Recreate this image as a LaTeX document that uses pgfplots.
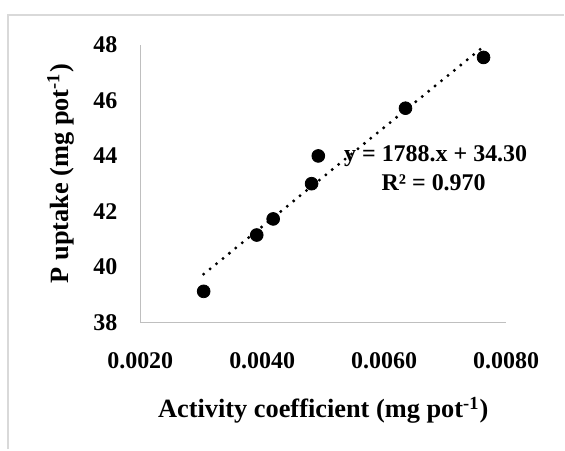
\documentclass[border=0pt]{standalone}
\usepackage{fontspec}
\setmainfont{Liberation Serif}
\usepackage{pgfplots}
\pgfplotsset{compat=1.18}
\definecolor{framegray}{HTML}{D9D9D9}
\definecolor{axisgray}{HTML}{BFBFBF}

\begin{document}
\begin{tikzpicture}
% page = 565x450 px at 0.5pt per px; axis box spans px 140.5..507 x 45..323
\begin{axis}[
    scale only axis,
    width=183.25pt, height=139pt,
    xmin=0.002, xmax=0.008,
    ymin=38, ymax=48,
    xtick={0.002,0.004,0.006,0.008},
    ytick={38,40,42,44,46,48},
    scaled x ticks=false,
    axis x line=bottom, axis y line=left,
    axis line style={axisgray, line width=0.75pt, -},
    major tick length=0pt,
    tick style={draw=none},
    /pgf/number format/assume math mode=true,
    xticklabel style={font=\fontsize{12}{14}\selectfont\bfseries, yshift=-11.5pt,
        /pgf/number format/.cd, fixed, fixed zerofill, precision=4},
    yticklabel style={font=\fontsize{12}{14}\selectfont\bfseries, xshift=-8pt},
    xlabel={Activity coefficient (mg pot\textsuperscript{-1})},
    ylabel={P uptake (mg pot\textsuperscript{-1})},
    label style={font=\fontsize{13.2}{15}\selectfont\bfseries},
    x label style={at={(axis description cs:0.5,-0.317)}, anchor=center},
    y label style={at={(axis description cs:-0.218,0.536)}, anchor=center},
    clip=false,
]
% chart frame (left and top edges visible) and page size
\draw[framegray, line width=1pt]
    (rel axis cs:-0.3602,-0.4568) -- (rel axis cs:-0.3602,1.1079) -- (rel axis cs:1.1583,1.1079);
\path (rel axis cs:-0.3834,-0.4568) rectangle (rel axis cs:1.1583,1.1619);
% linear trendline y = 1788x + 34.30 over the data range
\addplot[black, line width=1.65pt, dash pattern=on 0pt off 4.15pt, line cap=round]
    coordinates {(0.00304,39.74) (0.00763,47.94)};
\addplot[only marks, mark=*, mark size=3.2pt, black]
    coordinates {
    (0.00304,39.12)
    (0.00391,41.15)
    (0.00418,41.73)
    (0.00481,43.00)
    (0.00492,44.00)
    (0.00635,45.72)
    (0.00763,47.55)
    };
\node[font=\fontsize{12}{14}\selectfont\bfseries, anchor=center]
    at (axis cs:0.006845,43.98) {y = 1788.x + 34.30};
\node[font=\fontsize{12}{14}\selectfont\bfseries, anchor=center]
    at (axis cs:0.006812,43.03) {R² = 0.970};
\end{axis}
\end{tikzpicture}
\end{document}
